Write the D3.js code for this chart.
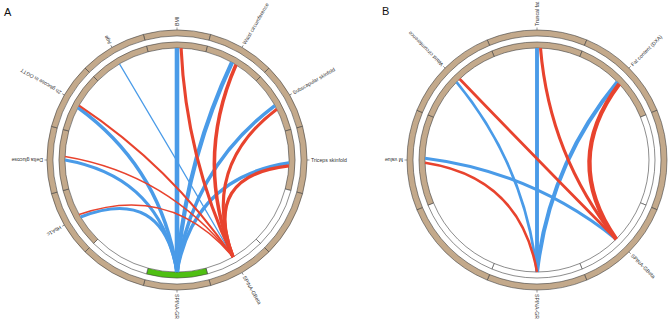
<!DOCTYPE html>
<html><head><meta charset="utf-8">
<script src="https://cdn.jsdelivr.net/npm/d3@7"></script>
<style>html,body{margin:0;padding:0;background:#fff}svg{display:block}</style>
</head><body>
<svg id="chart" width="670" height="329"></svg>
<script>
// ---------- DATA ----------
const panelLabels = ["A", "B"];
const sectorsA = ["BMI","Waist circumference","Subscapular skinfold","Triceps skinfold","","SPINA-GBeta","SPINA-GR","","HbA1c","Delta glucose","2h glucose in OGTT","Age"];
const innerTrackA = ["tan","tan","tan","tan","none","none","green","none","tan","tan","tan","tan"];
// links: [sector from, position in sector, sector to, position in sector, correlation]
const linksA = [
  ["SPINA-GR",0.5,"BMI",0.5,-0.45],
  ["SPINA-GR",0.5,"Waist circumference",0.48,-0.42],
  ["SPINA-GR",0.5,"Subscapular skinfold",0.53,-0.34],
  ["SPINA-GR",0.5,"Triceps skinfold",0.55,-0.32],
  ["SPINA-GR",0.5,"2h glucose in OGTT",0.43,-0.35],
  ["SPINA-GR",0.5,"Delta glucose",0.5,-0.3],
  ["SPINA-GR",0.5,"HbA1c",0.48,-0.3],
  ["SPINA-GBeta",0.5,"Age",0.47,-0.12],
  ["SPINA-GBeta",0.5,"BMI",0.57,0.3],
  ["SPINA-GBeta",0.5,"Waist circumference",0.56,0.35],
  ["SPINA-GBeta",0.5,"Subscapular skinfold",0.6,0.3],
  ["SPINA-GBeta",0.5,"Triceps skinfold",0.6,0.33],
  ["SPINA-GBeta",0.5,"2h glucose in OGTT",0.47,0.2],
  ["SPINA-GBeta",0.5,"Delta glucose",0.56,0.15],
  ["SPINA-GBeta",0.5,"HbA1c",0.53,0.15]
];
const sectorsB = ["Truncal fat","Fat content (DXA)","","SPINA-GBeta","SPINA-GR","","M value","Waist circumference"];
const innerTrackB = ["tan","tan","none","none","none","none","tan","tan"];
const linksB = [
  ["SPINA-GR",0.5,"Truncal fat",0.5,-0.38],
  ["SPINA-GR",0.5,"Fat content (DXA)",0.52,-0.4],
  ["SPINA-GR",0.5,"Waist circumference",0.48,-0.27],
  ["SPINA-GR",0.5,"M value",0.47,0.25],
  ["SPINA-GBeta",0.5,"M value",0.52,-0.3],
  ["SPINA-GBeta",0.5,"Truncal fat",0.54,0.3],
  ["SPINA-GBeta",0.5,"Fat content (DXA)",0.55,0.42],
  ["SPINA-GBeta",0.5,"Waist circumference",0.53,0.27]
];

// ---------- STYLE ----------
const colTan = "#c3a98b", colGreen = "#4fbf12", colPos = "#e8432e", colNeg = "#4a9be8";
const fillMap = {tan: colTan, green: colGreen, none: "#ffffff"};
const R = {outer:[124,130], inner:[112,118], link:112, tick:[130,132.5], label:134};
const svg = d3.select("#chart");
const widthScale = d3.scaleLinear().domain([0, 0.45]).range([0, 4.6]);

function drawPanel(cx, cy, sectors, inner, links, title, tx, ty) {
  const n = sectors.length, w = 360 / n;
  const ang = d3.scaleLinear().domain([0, n]).range([-w/2, 360 - w/2]); // degrees
  const g = svg.append("g").attr("transform", `translate(${cx},${cy})`);
  const rad = d => d * Math.PI / 180;
  const arc = d3.arc();
  sectors.forEach((s, i) => {
    const a0 = rad(ang(i)), a1 = rad(ang(i + 1));
    g.append("path").attr("d", arc({innerRadius:R.outer[0], outerRadius:R.outer[1], startAngle:a0, endAngle:a1}))
      .attr("fill", colTan).attr("stroke", "#3f3f3f").attr("stroke-width", 0.6);
    g.append("path").attr("d", arc({innerRadius:R.inner[0], outerRadius:R.inner[1], startAngle:a0, endAngle:a1}))
      .attr("fill", fillMap[inner[i]]).attr("stroke", "#3f3f3f").attr("stroke-width", 0.6);
    if (s) {
      const am = ang(i + 0.5);
      const lg = g.append("g").attr("transform", `rotate(${am - 90})`);
      lg.append("line").attr("x1", R.tick[0]).attr("x2", R.tick[1]).attr("y1", 0).attr("y2", 0)
        .attr("stroke", "#555").attr("stroke-width", 0.6);
      lg.append("text").attr("x", R.label).attr("y", 0).attr("dy", "0.35em")
        .attr("font-family", "Liberation Sans, Arial, sans-serif").attr("font-size", 5.2)
        .attr("fill", "#333").text(s);
    }
  });
  const pt = (sec, pos) => {
    const a = rad(ang(sectors.indexOf(sec) + pos));
    return [R.link * Math.sin(a), -R.link * Math.cos(a)];
  };
  links.forEach(([s1, p1, s2, p2, v]) => {
    const a = pt(s2, p2), b = pt(s1, p1);
    const k = 0.3;
    const c = [k * (a[0] + b[0]) / 2, k * (a[1] + b[1]) / 2];
    const path = d3.path();
    path.moveTo(a[0], a[1]);
    path.quadraticCurveTo(c[0], c[1], b[0], b[1]);
    g.append("path").attr("d", path.toString()).attr("fill", "none")
      .attr("stroke", v > 0 ? colPos : colNeg).attr("stroke-width", widthScale(Math.abs(v)))
      .attr("stroke-linecap", "butt");
  });
  svg.append("text").attr("x", tx).attr("y", ty).attr("font-family", "Liberation Sans, Arial, sans-serif")
    .attr("font-size", 11).attr("fill", "#111").text(title);
}

drawPanel(177, 160, sectorsA, innerTrackA, linksA, panelLabels[0], 4, 16);
drawPanel(537, 160, sectorsB, innerTrackB, linksB, panelLabels[1], 382, 15);
</script>
</body></html>
